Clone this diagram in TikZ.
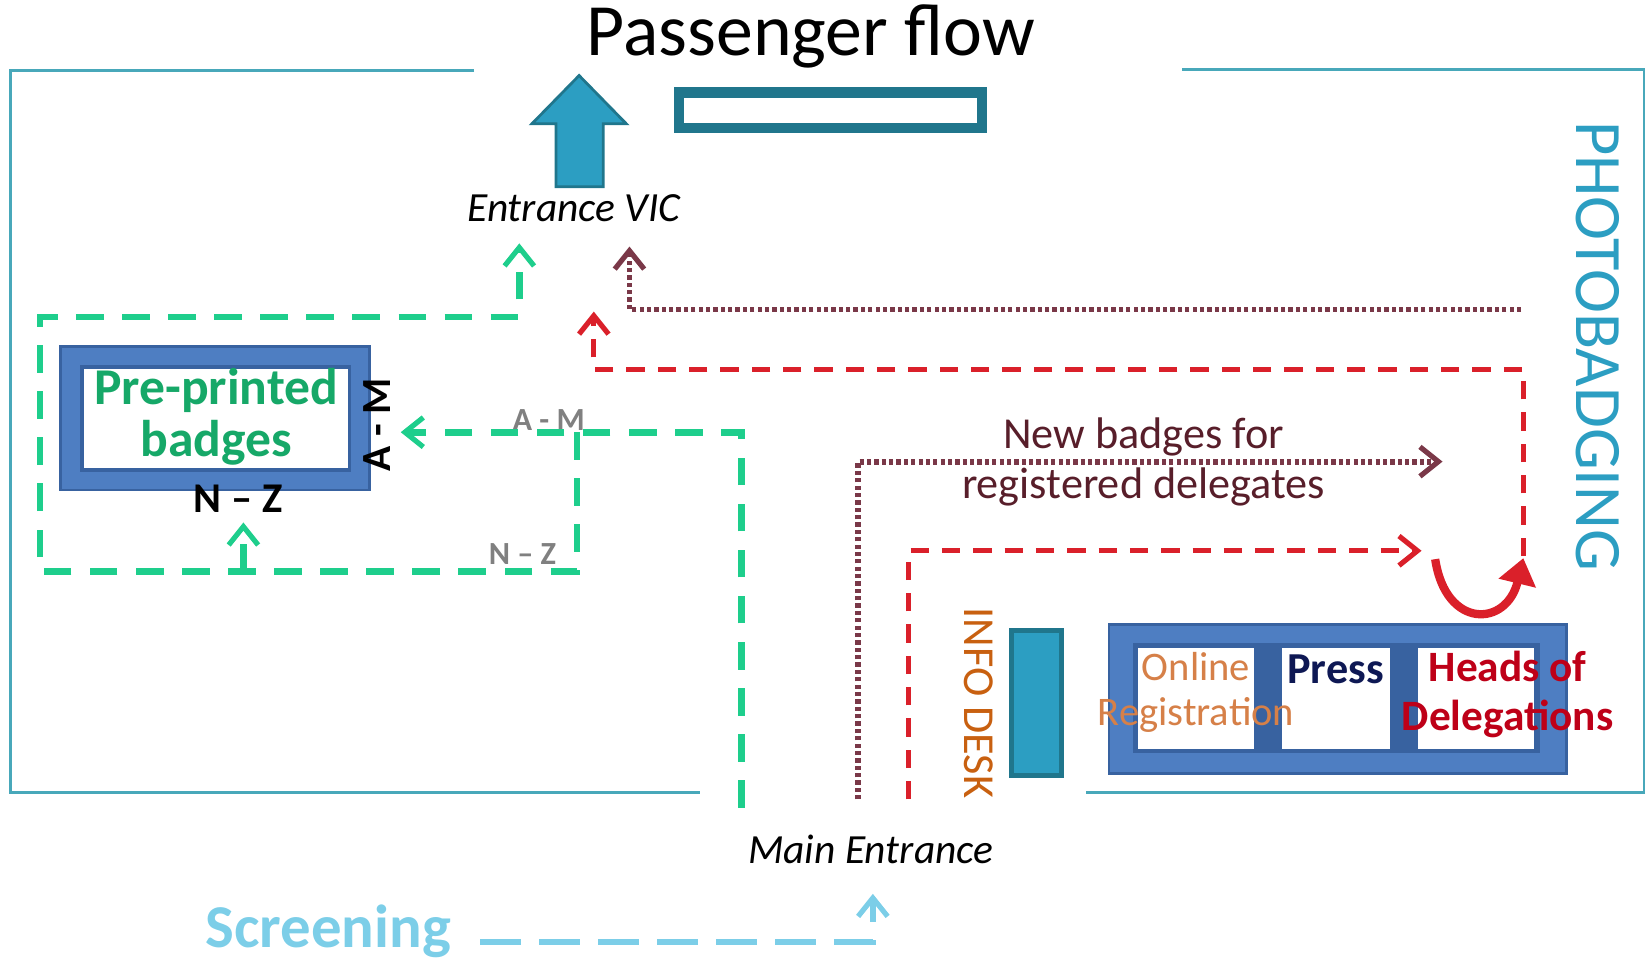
\documentclass[tikz,border=0pt]{standalone}
\usepackage{fontspec}
\setmainfont{Carlito}
\usetikzlibrary{arrows.meta,positioning,calc}

\definecolor{wallteal}{RGB}{72,168,186}
\definecolor{flowteal}{RGB}{44,158,194}
\definecolor{deepteal}{RGB}{32,118,140}
\definecolor{flowgreen}{RGB}{30,206,140}
\definecolor{badgegreen}{RGB}{22,168,104}
\definecolor{plumflow}{RGB}{122,56,72}
\definecolor{plumtext}{RGB}{88,30,42}
\definecolor{redflow}{RGB}{218,32,42}
\definecolor{skyflow}{RGB}{124,206,232}
\definecolor{deskblue}{RGB}{78,126,194}
\definecolor{deskdark}{RGB}{56,98,160}
\definecolor{infoorange}{RGB}{200,96,16}
\definecolor{onlineorange}{RGB}{214,128,72}
\definecolor{pressnavy}{RGB}{14,24,84}
\definecolor{headsred}{RGB}{190,0,24}

\tikzset{
  wall/.style={draw=wallteal, line width=1.7pt},
  greenflow/.style={draw=flowgreen, line width=3.6pt, dash pattern=on 15pt off 10pt},
  plumdots/.style={draw=plumflow, line width=3.2pt, dash pattern=on 2.3pt off 1.7pt},
  reddash/.style={draw=redflow, line width=2.9pt, dash pattern=on 10pt off 7pt},
  skydash/.style={draw=skyflow, line width=3.2pt, dash pattern=on 22pt off 10pt},
  tipped/.style={-{Straight Barb[length=10pt,width=16pt,line width=2.8pt]}},
  counter/.style={fill=deskblue, draw=deskdark, line width=1.5pt},
  cell/.style={fill=white, draw=none},
  lbl/.style={inner sep=0pt, align=center}
}

\begin{document}
\begin{tikzpicture}[x=0.02cm,y=-0.02cm]
\useasboundingbox (0,0) rectangle (1568,918);

% walls of the hall
\draw[wall] (452,67) -- (10,67) -- (10,755) -- (667,755);
\draw[wall] (1127,66) -- (1568,66) -- (1568,755) -- (1035,755);

% exit arrow and gate
\draw[fill=flowteal, draw=deepteal, line width=1.5pt]
  (530,178) -- (530,118) -- (507,118) -- (552,72) -- (597,118) -- (575,118) -- (575,178) -- cycle;
\draw[draw=deepteal, line width=5.7pt] (647,88) rectangle (936,122);

\node[lbl, font=\fontsize{40}{44}\selectfont] (title) at (773,35) {Passenger flow};
\node[lbl, font=\itshape\fontsize{22.5}{26}\selectfont] (vic) at (547,198) {Entrance VIC};
\node[lbl, font=\itshape\fontsize{22.5}{26}\selectfont] (main) at (830,810) {Main Entrance};

% pre-printed badges desk
\draw[counter] (58,330) rectangle (352,467);
\draw[cell, draw=deskdark, line width=2pt] (78,350) rectangle (333,448);
\node[lbl, text=badgegreen, font=\bfseries\fontsize{28}{28}\selectfont] (preprinted) at (206,397) {Pre-printed\\badges};
\node[lbl, rotate=90, font=\bfseries\fontsize{22.5}{24}\selectfont] (am) at (359,405) {A - M};
\node[lbl, font=\bfseries\fontsize{23}{24}\selectfont] (nz) at (227,475) {N -- Z};
\node[lbl, text=gray, font=\bfseries\fontsize{17.5}{18}\selectfont] (amgray) at (523,400) {A - M};
\node[lbl, text=gray, font=\bfseries\fontsize{17.5}{18}\selectfont] (nzgray) at (498,528) {N -- Z};

% registration desks
\draw[fill=flowteal, draw=deepteal, line width=3pt] (964,601) rectangle (1012,739);
\node[lbl, rotate=-90, text=infoorange, font=\fontsize{24}{26}\selectfont] (infodesk) at (933,670) {INFO DESK};

\draw[counter] (1057,595) rectangle (1493,737);
\fill[deskdark] (1080,613) rectangle (1468,718);
\fill[white] (1085,618) rectangle (1195,714);
\fill[white] (1222,618) rectangle (1325,714);
\fill[white] (1352,618) rectangle (1462,714);
\node[lbl, text=onlineorange, font=\fontsize{22}{24}\selectfont] (online) at (1140,660) {Online\\Registration};
\node[lbl, text=pressnavy, font=\bfseries\fontsize{24}{26}\selectfont] (press) at (1273,638) {Press};
\node[lbl, text=headsred, font=\bfseries\fontsize{23.5}{27}\selectfont] (heads) at (1437,662) {Heads of\\Delegations};

\node[lbl, rotate=-90, text=flowteal, font=\fontsize{36}{38}\selectfont] (photo) at (1523,330) {PHOTOBADGING};
\node[lbl, text=plumtext, font=\fontsize{24}{27}\selectfont] (newbadges) at (1090,440) {New badges for\\registered delegates};
\node[lbl, text=skyflow, font=\bfseries\fontsize{33}{36}\selectfont] (screening) at (313,888) {Screening};

% flow end points
\coordinate (gin) at (707,770);
\coordinate (amtip) at (382,412);
\coordinate (gsplit) at (550,412);
\coordinate (gvic) at (495,232);
\coordinate (gnz) at (232,545);
\coordinate (nztip) at (232,498);
\coordinate (pfrom) at (1450,295);
\coordinate (pvic) at (600,235);
\coordinate (rfrom) at (1452,530);
\coordinate (rvic) at (566,297);
\coordinate (pin) at (818,762);
\coordinate (ptip) at (1375,440);
\coordinate (rin) at (866,762);
\coordinate (rtip) at (1355,525);
\coordinate (ustart) at (1368,533);
\coordinate (uend) at (1452,532);
\coordinate (sfrom) at (458,898);
\coordinate (stip) at (832,852);

% green flows
\draw[greenflow, tipped] (gin) |- (amtip);
\draw[greenflow, tipped] (gsplit) -- (550,545) -- (38,545) -- (38,302) -| (gvic);
\draw[greenflow, tipped] (gnz) -- (nztip);

% photobadging flows
\draw[plumdots, tipped] (pfrom) -| (pvic);
\draw[reddash, tipped] (rfrom) |- (566,352) -- (rvic);
\draw[plumdots, tipped] (pin) |- (ptip);
\draw[reddash, tipped] (rin) |- (rtip);
\draw[draw=redflow, line width=4.5pt, -{Triangle[length=14pt,width=20pt]}]
  (ustart) .. controls (1378,600) and (1436,598) .. (uend);

% screening
\draw[skydash, tipped] (sfrom) -| (stip);
\end{tikzpicture}
\end{document}
